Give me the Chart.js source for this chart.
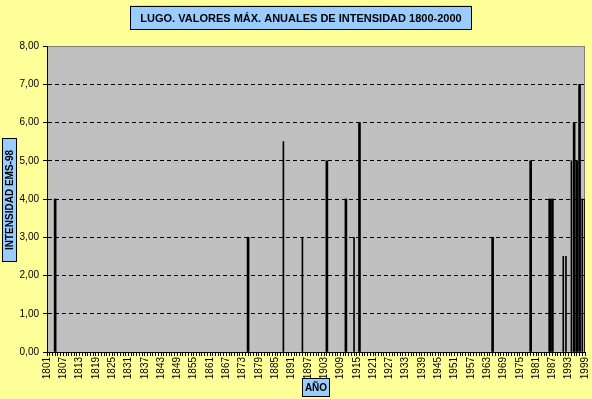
<!DOCTYPE html>
<html>
<head>
<meta charset="utf-8">
<script src="https://cdn.jsdelivr.net/npm/chart.js@4.4.1/dist/chart.umd.min.js"></script>
<style>
html, body { margin: 0; padding: 0; background: #FFFF99; }
#wrap { position: relative; width: 592px; height: 399px; }
</style>
</head>
<body>
<div id="wrap"><canvas id="chart" width="592" height="399"></canvas></div>
<script>
// --- Lugo: max annual intensity 1800-2000 ---

const titleText = 'LUGO. VALORES MÁX. ANUALES DE INTENSIDAD 1800-2000';
const xTitle = 'AÑO';
const yTitle = 'INTENSIDAD EMS-98';

const firstYear = 1801;
const lastYear = 1999;
const tickLabels = ['1801','1807','1813','1819','1825','1831','1837','1843','1849','1855','1861','1867',
    '1873','1879','1885','1891','1897','1903','1909','1915','1921','1927','1933','1939','1945','1951',
    '1957','1963','1969','1975','1981','1987','1993','1999'];
const yTickLabels = ['0,00','1,00','2,00','3,00','4,00','5,00','6,00','7,00','8,00'];

// bars drawn 2px wide
const thickYears = [1804, 1875, 1904, 1911, 1916, 1965, 1979, 1986, 1987, 1995, 1996, 1997];
const thickValues = [4, 3, 5, 4, 6, 3, 5, 4, 4, 6, 5, 7];
// bars drawn 1px wide
const thinYears = [1888, 1895, 1914, 1991, 1992, 1994, 1998, 1999];
const thinValues = [5.5, 3, 3, 2.5, 2.5, 5, 4, 4];

const years = [];
for (let y = firstYear; y <= lastYear; y++) years.push(String(y));

function toSeries(yrs, vals) {
    const out = years.map(() => null);
    yrs.forEach((y, i) => { out[y - firstYear] = vals[i]; });
    return out;
}

function drawBox(ctx, text, cx, cy, w, h, rotated, font) {
    ctx.save();
    ctx.fillStyle = '#99CCFF';
    ctx.fillRect(cx - w / 2, cy - h / 2, w, h);
    ctx.strokeStyle = '#000';
    ctx.lineWidth = 1;
    ctx.strokeRect(Math.round(cx - w / 2) + 0.5, Math.round(cy - h / 2) + 0.5, Math.round(w) - 1, Math.round(h) - 1);
    ctx.fillStyle = '#000';
    ctx.font = font;
    ctx.textAlign = 'center';
    ctx.textBaseline = 'middle';
    ctx.translate(cx, cy);
    if (rotated) ctx.rotate(-Math.PI / 2);
    ctx.fillText(text, 0, 1);
    ctx.restore();
}

const excelLook = {
    id: 'excelLook',
    beforeDraw(chart) {
        const { ctx, chartArea: a } = chart;
        ctx.save();
        ctx.fillStyle = '#C0C0C0';
        ctx.fillRect(a.left, a.top, a.right - a.left, a.bottom - a.top);
        ctx.strokeStyle = '#808080';
        ctx.lineWidth = 1;
        ctx.strokeRect(Math.round(a.left) + 0.5, Math.round(a.top) + 0.5, Math.round(a.right - a.left) - 1, Math.round(a.bottom - a.top));
        ctx.restore();
    },
    afterDraw(chart) {
        const ctx = chart.ctx;
        drawBox(ctx, titleText, 301, 17.5, 342, 24, false, 'bold 11px "Liberation Sans", Arial, sans-serif');
        drawBox(ctx, xTitle, 316, 387.5, 28, 19, false, 'bold 10px "Liberation Sans", Arial, sans-serif');
        drawBox(ctx, yTitle, 9.5, 200, 15, 124, true, 'bold 10px "Liberation Sans", Arial, sans-serif');
    }
};

const tickFont = { family: '"Liberation Sans", Arial, sans-serif', size: 10 };

new Chart(document.getElementById('chart').getContext('2d'), {
    type: 'bar',
    data: {
        labels: years,
        datasets: [
            { data: toSeries(thickYears, thickValues), backgroundColor: '#000', borderWidth: 0, barThickness: 2, grouped: false },
            { data: toSeries(thinYears, thinValues), backgroundColor: '#000', borderWidth: 0, barThickness: 1, grouped: false }
        ]
    },
    options: {
        responsive: false,
        animation: false,
        layout: { padding: { top: 46, right: 7, left: 0, bottom: 0 } },
        plugins: { legend: { display: false }, tooltip: { enabled: false } },
        scales: {
            x: {
                offset: false,
                afterFit: (s) => { s.height = 47; s.paddingLeft = 0; s.paddingRight = 0; },
                grid: { drawOnChartArea: false, drawTicks: true, tickLength: 4, tickColor: '#000', offset: false },
                border: { color: '#000', width: 1 },
                ticks: {
                    autoSkip: false, minRotation: 90, maxRotation: 90, padding: 1,
                    color: '#000', font: tickFont,
                    callback: function (v) {
                        const lab = this.getLabelForValue(v);
                        return tickLabels.includes(lab) ? lab : '';
                    }
                }
            },
            y: {
                min: 0, max: 8,
                afterFit: (s) => { s.width = 47; },
                grid: {
                    color: (c) => (c.tick && (c.tick.value === 0 || c.tick.value === 8)) ? 'rgba(0,0,0,0)' : '#000',
                    tickColor: '#000', tickLength: 4, lineWidth: 1
                },
                border: { color: '#000', width: 1, dash: [4, 3] },
                ticks: {
                    stepSize: 1, padding: 4, color: '#000', font: tickFont,
                    callback: (v) => yTickLabels[v]
                }
            }
        }
    },
    plugins: [excelLook]
});
</script>
</body>
</html>
